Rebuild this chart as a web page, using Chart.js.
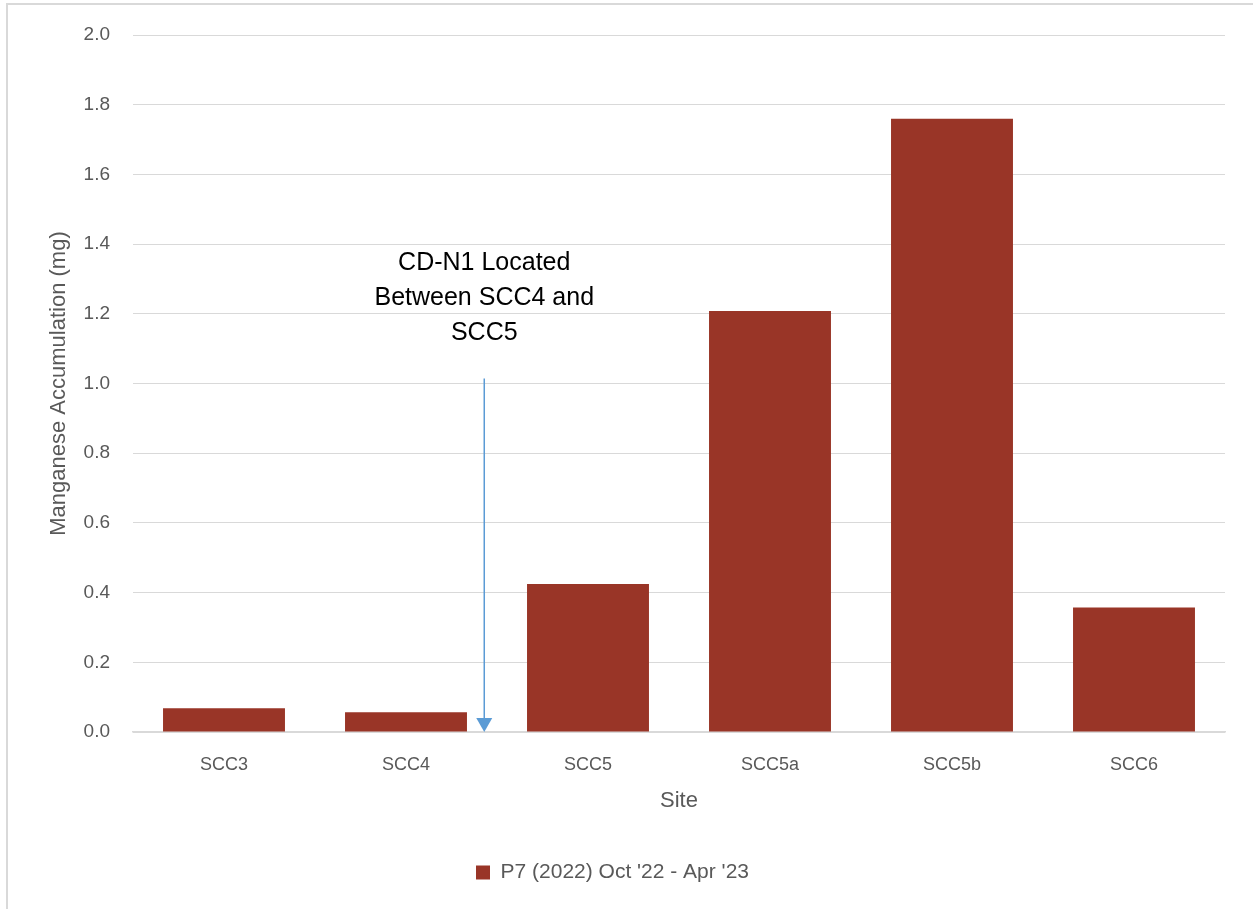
<!DOCTYPE html>
<html>
<head>
<meta charset="utf-8">
<script src="https://cdn.jsdelivr.net/npm/chart.js@4.4.0/dist/chart.umd.min.js"></script>
<style>
  html, body { margin: 0; padding: 0; background: #fff; }
  #wrap { position: relative; width: 1253px; height: 909px; }
  #frame { position: absolute; left: 6px; top: 3px; right: 0; bottom: 0;
           border-top: 2px solid #d9d9d9; border-left: 2px solid #d9d9d9; pointer-events: none; }
  canvas { position: absolute; left: 0; top: 0; }
</style>
</head>
<body>
<div id="wrap">
  <canvas id="chart" width="1253" height="909"></canvas>
  <div id="frame"></div>
</div>
<script>
// ── Data ──
const sites = ['SCC3', 'SCC4', 'SCC5', 'SCC5a', 'SCC5b', 'SCC6'];
const manganese = [0.068, 0.057, 0.425, 1.208, 1.760, 0.357];
const seriesLabel = "P7 (2022) Oct '22 - Apr '23";
const yTicks = [0, 0.2, 0.4, 0.6, 0.8, 1.0, 1.2, 1.4, 1.6, 1.8, 2.0];

// note + arrow, in data units
const noteLines = ['CD-N1 Located', 'Between SCC4 and', 'SCC5'];
const noteX = 1.43;
const noteTopY = 1.345;
const arrowFromY = 1.014;

const FONT = "'Liberation Sans', Arial, sans-serif";
const GREY = '#595959';

// ── Annotation plugin ──
const notePlugin = {
  id: 'note',
  afterDatasetsDraw(chart) {
    const { ctx, scales: { x, y } } = chart;
    const px = x.getPixelForValue(noteX);
    const y0 = y.getPixelForValue(arrowFromY);
    const y1 = y.getPixelForValue(0);
    ctx.save();
    ctx.strokeStyle = '#5b9bd5';
    ctx.fillStyle = '#5b9bd5';
    ctx.lineWidth = 1.5;
    ctx.beginPath();
    ctx.moveTo(px, y0);
    ctx.lineTo(px, y1 - 12);
    ctx.stroke();
    ctx.beginPath();
    ctx.moveTo(px - 8, y1 - 14);
    ctx.lineTo(px + 8, y1 - 14);
    ctx.lineTo(px, y1);
    ctx.closePath();
    ctx.fill();

    ctx.fillStyle = '#000';
    ctx.font = `25px ${FONT}`;
    ctx.textAlign = 'center';
    ctx.textBaseline = 'middle';
    const top = y.getPixelForValue(noteTopY);
    noteLines.forEach((t, i) => ctx.fillText(t, px, top + i * 35));
    ctx.restore();
  },
};

new Chart(document.getElementById('chart'), {
  type: 'bar',
  data: {
    labels: sites,
    datasets: [{
      label: seriesLabel,
      data: manganese,
      backgroundColor: '#993527',
      borderWidth: 0,
      barPercentage: 0.67,
      categoryPercentage: 1.0,
    }],
  },
  options: {
    responsive: false,
    animation: false,
    layout: { padding: { left: 0, top: 35, right: 28, bottom: 16 } },
    plugins: {
      legend: {
        position: 'bottom',
        labels: {
          color: GREY,
          font: { family: FONT, size: 21 },
          boxWidth: 14,
          boxHeight: 14,
          padding: 10,
        },
      },
      tooltip: { enabled: false },
    },
    scales: {
      x: {
        grid: { display: false, drawTicks: false },
        border: { color: '#d9d9d9', width: 1.5 },
        ticks: { color: GREY, font: { family: FONT, size: 18 }, padding: 22, maxRotation: 0 },
        title: {
          display: true, text: 'Site', color: GREY,
          font: { family: FONT, size: 22 }, padding: { top: 0, bottom: 38 },
        },
        afterFit: (s) => { s.height = 120; },
      },
      y: {
        min: 0,
        max: 2.0,
        afterBuildTicks: (s) => { s.ticks = yTicks.map(v => ({ value: v })); },
        grid: { color: '#d9d9d9', lineWidth: 1, drawTicks: false },
        border: { display: false },
        ticks: {
          color: GREY, font: { family: FONT, size: 19 }, padding: 23,
          callback: (v) => Number(v).toFixed(1),
        },
        title: {
          display: true, text: 'Manganese Accumulation (mg)', color: GREY,
          font: { family: FONT, size: 22 }, padding: { top: 46, bottom: 0 },
        },
        afterFit: (s) => { s.width = 133; },
      },
    },
  },
  plugins: [notePlugin],
});
</script>
</body>
</html>
